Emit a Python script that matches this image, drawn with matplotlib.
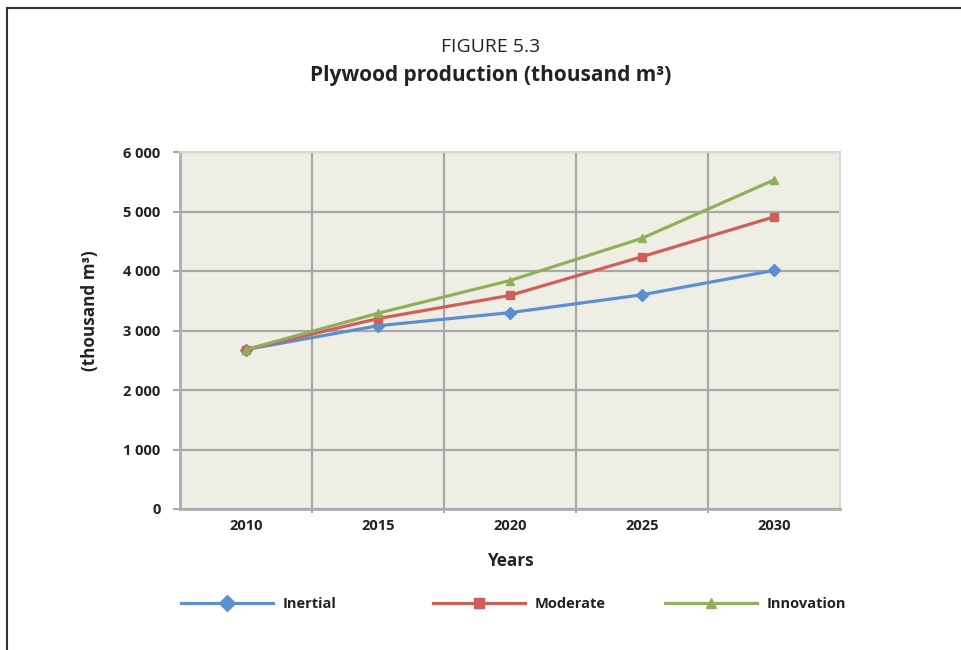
import matplotlib
matplotlib.use("Agg")
import matplotlib.pyplot as plt
from matplotlib.lines import Line2D

plt.rcParams['font.family'] = ['Open Sans', 'DejaVu Sans']

years = ["2010", "2015", "2020", "2025", "2030"]
inertial = [2680, 3080, 3300, 3600, 4010]
moderate = [2680, 3200, 3590, 4240, 4910]
innovation = [2680, 3290, 3840, 4550, 5530]
y_ticks = [0, 1000, 2000, 3000, 4000, 5000, 6000]
y_tick_labels = ["0", "1 000", "2 000", "3 000", "4 000", "5 000", "6 000"]

series = [
    ("Inertial", inertial, "#5B8FD0", "D"),
    ("Moderate", moderate, "#CF5F58", "s"),
    ("Innovation", innovation, "#8FB05A", "^"),
]

fig = plt.figure(figsize=(9.62, 6.5), dpi=100)
ax = fig.add_axes([180/962, 1-509/650, 660/962, 357/650])
ax.set_facecolor("#EEEEE5")

x = list(range(len(years)))
handles = []
for name, vals, col, mk in series:
    h, = ax.plot(x, vals, color=col, lw=2.3, marker=mk, markersize=6,
                 markeredgecolor=col, markerfacecolor=col, label=name, zorder=3)
    handles.append(h)

ax.set_xlim(-0.5, 4.5)
ax.set_ylim(0, 6000)
ax.set_yticks(y_ticks)
ax.set_yticklabels(y_tick_labels, fontsize=10.5, fontweight="bold", color="#222222")
ax.set_xticks(x)
ax.set_xticklabels(years, fontsize=10.5, fontweight="bold", color="#222222")
ax.tick_params(axis='x', length=0, pad=7)
ax.tick_params(axis='y', length=5, color="#A8A8A8", width=1.5, pad=9)
ax.set_xticks([0.5, 1.5, 2.5, 3.5], minor=True)
ax.tick_params(axis='x', which='minor', length=3, color="#A8A8A8", width=1.5)
ax.grid(True, axis='y', which='major', color="#A8A8A8", lw=1.6)
ax.grid(True, axis='x', which='minor', color="#A8A8A8", lw=1.6)
ax.set_axisbelow(True)
for side in ["top", "right"]:
    ax.spines[side].set_color("#D8D8D8")
    ax.spines[side].set_linewidth(1.5)
for side in ["left", "bottom"]:
    ax.spines[side].set_color("#ADADAD")
    ax.spines[side].set_linewidth(2)

ax.set_xlabel("Years", fontsize=12.3, fontweight="bold", color="#222222", labelpad=14)
ax.set_ylabel("(thousand m³)", fontsize=12.3, fontweight="bold", color="#222222")
ax.yaxis.set_label_coords(-0.122, 0.555)

fig.text(491/962, 1-47/650, "FIGURE 5.3", ha="center", va="center", fontsize=14, color="#222222")
fig.text(491/962, 1-76/650, "Plywood production (thousand m³)", ha="center", va="center",
         fontsize=15, fontweight="bold", color="#222222")

# legend entries placed individually
legend_x = [181/962, 433/962, 665/962]
for h, lx in zip(handles, legend_x):
    lg = fig.legend(handles=[h], loc="center left", bbox_to_anchor=(lx, 1-604/650),
                    frameon=False, fontsize=10.5, handlelength=6.3, handletextpad=0.7,
                    borderaxespad=0, borderpad=0, markerscale=1.3)
    for t in lg.get_texts():
        t.set_fontweight("bold")
        t.set_color("#222222")

# frame lines (top and left)
fig.add_artist(Line2D([7/962, 1], [1-7.5/650, 1-7.5/650], color="#333333", lw=1.5,
                      transform=fig.transFigure))
fig.add_artist(Line2D([7/962, 7/962], [0, 1-7.5/650], color="#333333", lw=1.5,
                      transform=fig.transFigure))

fig.savefig("out.png", dpi=100)
